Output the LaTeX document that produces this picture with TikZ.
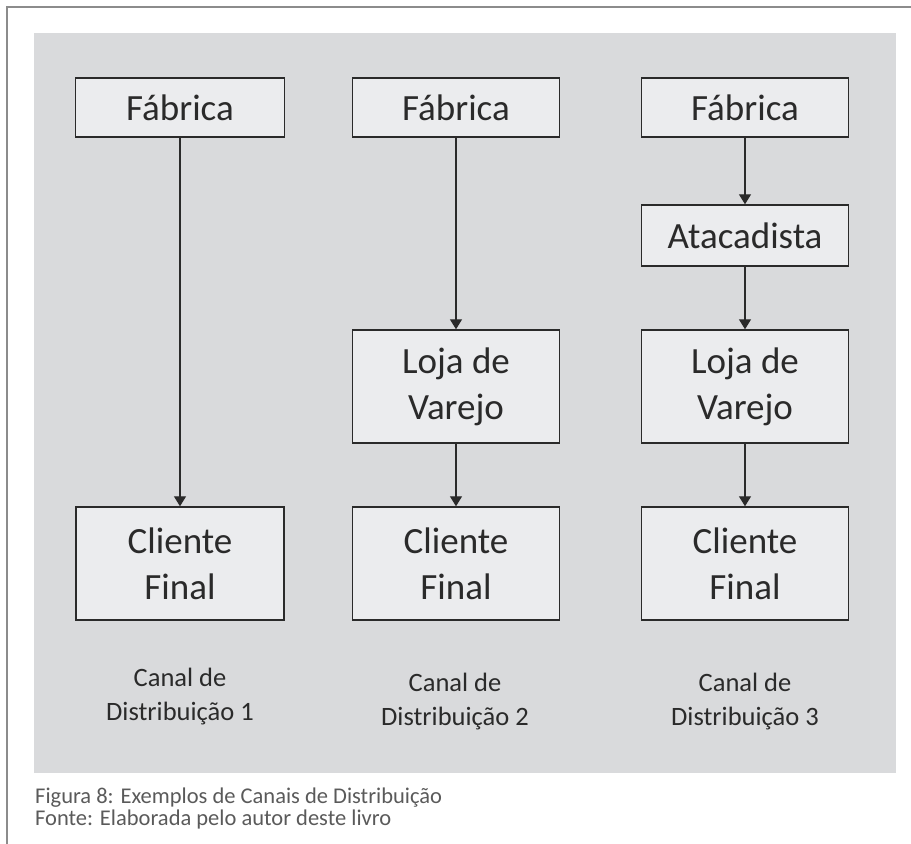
\documentclass[tikz,border=0pt]{standalone}
\usepackage{fontspec}
\setmainfont{Carlito}
\newfontfamily\captionfont{Carlito}
\usepackage{xcolor}
\usepackage{tikz}
\usetikzlibrary{arrows.meta}

\definecolor{panelgray}{HTML}{D9DADC}
\definecolor{boxgray}{HTML}{EBECEE}
\definecolor{framegray}{HTML}{8C8C8C}
\definecolor{inkgray}{HTML}{2A2A2A}
\definecolor{notegray}{HTML}{5A5A5A}

\begin{document}
\begin{tikzpicture}[x=1pt, y=-1pt]
\tikzstyle{box}=[draw=inkgray, fill=boxgray, line width=1.4pt, inner sep=0pt,
  minimum width=207pt, text=inkgray, align=center,
  font=\fontsize{37}{46}\selectfont]
\tikzstyle{label}=[text=inkgray, align=center, font=\fontsize{26.5}{34}\selectfont]
\tikzstyle{note}=[text=notegray, anchor=base west, inner sep=0pt,
  font=\captionfont\fontsize{22.5}{21}\selectfont]
\tikzset{every edge/.style={draw=inkgray, line width=1.2pt,
  -{Triangle[length=10pt, width=12pt]}}}

\useasboundingbox (0,0) rectangle (911,844);
\fill[panelgray] (34,33) rectangle (896,773);
\draw[framegray, line width=2.5pt] (911,7) -- (7,7);
\draw[framegray, line width=2pt] (7,6) -- (7,844);

% canal 1
\node[box, minimum width=209pt, minimum height=59pt] (fab1) at (180,107.5) {Fábrica};
\node[box, minimum width=208pt, minimum height=113pt] (cli1) at (180,563.5) {Cliente\\Final};
\node[label] (canal1) at (180,697) {Canal de\\Distribuição 1};

% canal 2
\node[box, minimum height=59pt] (fab2) at (456,107.5) {Fábrica};
\node[box, minimum height=113pt] (loja2) at (456,386.5) {Loja de\\Varejo};
\node[box, minimum height=113pt] (cli2) at (456,563.5) {Cliente\\Final};
\node[label] (canal2) at (455,702) {Canal de\\Distribuição 2};

% canal 3
\node[box, minimum height=59pt] (fab3) at (745,107.5) {Fábrica};
\node[box, minimum height=61pt] (ata3) at (745,235.5) {Atacadista};
\node[box, minimum height=113pt] (loja3) at (745,386.5) {Loja de\\Varejo};
\node[box, minimum height=113pt] (cli3) at (745,563.5) {Cliente\\Final};
\node[label] (canal3) at (745,702) {Canal de\\Distribuição 3};

\path
(fab1) edge (cli1)
(fab2) edge (loja2)
(loja2) edge (cli2)
(fab3) edge (ata3)
(ata3) edge (loja3)
(loja3) edge (cli3);

\node[note] (cap1) at (35,803) {Figura 8: Exemplos de Canais de Distribuição};
\node[note] (cap2) at (35,825) {Fonte: Elaborada pelo autor deste livro};
\end{tikzpicture}
\end{document}
